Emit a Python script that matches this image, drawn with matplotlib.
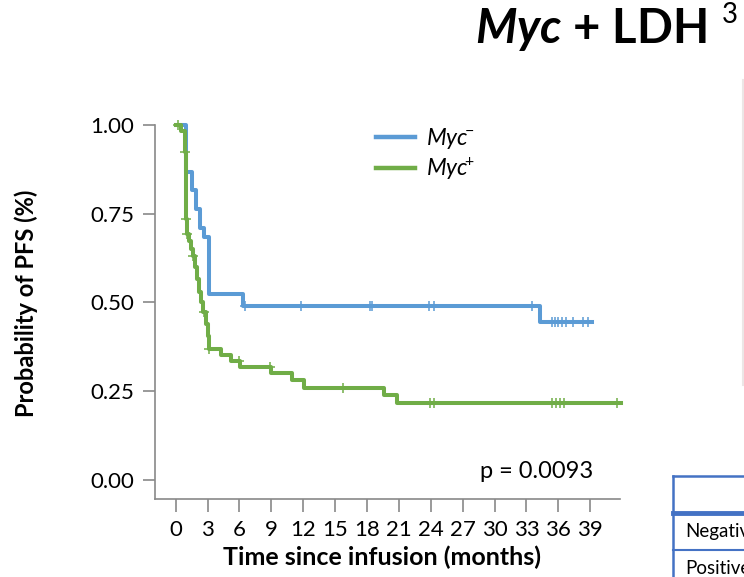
import matplotlib
matplotlib.use("Agg")
import matplotlib.pyplot as plt
import numpy as np
from matplotlib.lines import Line2D

plt.rcParams["font.family"] = "Lato"
plt.rcParams["mathtext.fontset"] = "custom"
plt.rcParams["mathtext.rm"] = "Lato"
plt.rcParams["mathtext.it"] = "Lato:italic"
plt.rcParams["mathtext.bf"] = "Lato:bold"
plt.rcParams["mathtext.bfit"] = "Lato:italic:bold"

# Kaplan-Meier steps: event times (months) and survival after each event
myc_neg_t = [0, 1.0, 1.5, 1.9, 2.3, 2.7, 3.1, 6.3, 34.3]
myc_neg_s = [1.0, 0.867, 0.816, 0.763, 0.709, 0.684, 0.523, 0.491, 0.444]
myc_neg_end = 39.2
myc_neg_cens = [6.5, 11.8, 18.3, 18.5, 23.8, 24.3, 33.55, 35.4, 35.7, 36.0,
                36.3, 36.7, 37.4, 38.3, 38.8]

myc_pos_t = [0, 0.45, 0.85, 0.95, 1.05, 1.25, 1.45, 1.6, 1.85, 2.0, 2.2, 2.4,
             2.6, 2.85, 3.0, 3.1, 4.3, 5.2, 6.05, 9.0, 10.9, 12.1, 19.6, 20.8]
myc_pos_s = [1.0, 0.984, 0.925, 0.734, 0.692, 0.672, 0.650, 0.631, 0.60, 0.565,
             0.53, 0.50, 0.474, 0.44, 0.405, 0.37, 0.353, 0.334, 0.318, 0.301,
             0.28, 0.259, 0.238, 0.2165]
myc_pos_end = 41.9
myc_pos_cens = [0.2, 0.88, 0.98, 1.1, 1.66, 2.7, 3.15, 5.95, 8.9, 15.75, 23.9,
                24.3, 35.4, 35.8, 36.2, 36.5, 41.5]

x_ticks = list(range(0, 40, 3))
y_ticks = [0.0, 0.25, 0.5, 0.75, 1.0]
p_text = "p = 0.0093"

blue = "#5B9BD5"
green = "#70AD47"
grey = "#898989"

fig = plt.figure(figsize=(7.44, 5.77), dpi=100)
ax = fig.add_axes([155 / 744, 1 - 499 / 577, 465 / 744, 374 / 577])


def km(ax, t, s, end, cens, color, label):
    t = np.asarray(t)
    s = np.asarray(s)
    ax.step(np.append(t, end), np.append(s, s[-1]), where="post",
            color=color, lw=2.9, clip_on=False, label=label, zorder=3)
    idx = np.searchsorted(t, cens, side="right") - 1
    ax.plot(cens, s[idx], ls="none", marker="+", ms=7.5, mew=1.1,
            color=color, clip_on=False, zorder=4)


km(ax, myc_neg_t, myc_neg_s, myc_neg_end, myc_neg_cens, blue,
   r"$\mathit{Myc}\!^{-}$")
km(ax, myc_pos_t, myc_pos_s, myc_pos_end, myc_pos_cens, green,
   r"$\mathit{Myc}\!^{+}$")

ax.set_xlim(-1.95, 41.8)
ax.set_ylim(-0.054, 1.0)
ax.set_xticks(x_ticks)
ax.set_yticks(y_ticks)
ax.set_yticklabels([f"{v:.2f}" for v in y_ticks])
for side in ["top", "right"]:
    ax.spines[side].set_visible(False)
for side in ["left", "bottom"]:
    ax.spines[side].set_color(grey)
    ax.spines[side].set_linewidth(1.2)
ax.tick_params(axis="both", colors=grey, width=1.2, length=9, labelsize=16,
               labelcolor="black", pad=6)

ax.set_ylabel("Probability of PFS (%)", fontsize=17, fontweight="bold")
ax.yaxis.set_label_coords(-0.252, 0.524)
ax.set_xlabel("Time since infusion (months)", fontsize=18, fontweight="bold",
              va="top")
ax.xaxis.set_label_coords(0.488, -0.125)

ax.text((593 - 155) / 465, (499 - 478) / 374, p_text, transform=ax.transAxes,
        ha="right", va="baseline", fontsize=17)

ax.legend(loc="upper left", bbox_to_anchor=(376 / 744, 1 - 126 / 577),
          bbox_transform=fig.transFigure, frameon=False, fontsize=16.5,
          handlelength=1.7, handletextpad=0.5, labelspacing=0.2,
          borderpad=0, borderaxespad=0)
for line in ax.get_legend().get_lines():
    line.set_linewidth(3.2)

# panel title
fig.text(475 / 744, 1 - 43 / 577, r"$\mathbfit{Myc}$ + LDH", fontsize=34,
         fontweight="bold", va="baseline", ha="left")
fig.text(722 / 744, 1 - 23 / 577, "3", fontsize=20, va="baseline", ha="left")

# edge of the neighbouring panel and the table below it
fig.add_artist(Line2D([743 / 744, 743 / 744], [1 - 80 / 577, 1 - 385 / 577],
                      transform=fig.transFigure, color="#ece6e6", lw=1.5))
tbl = "#4472C4"
x0 = 673 / 744
for yy, lw in [(476, 1.8), (513, 3.5), (550, 1.5)]:
    fig.add_artist(Line2D([x0, 1.0], [1 - yy / 577] * 2,
                          transform=fig.transFigure, color=tbl, lw=lw))
fig.add_artist(Line2D([x0, x0], [1 - 476 / 577, 0.0],
                      transform=fig.transFigure, color=tbl, lw=1.8))
fig.text(685 / 744, 1 - 532 / 577, "Negative", fontsize=13.5, va="center")
fig.text(685 / 744, 1 - 569 / 577, "Positive", fontsize=13.5, va="center")

fig.savefig("out.png", dpi=100)
